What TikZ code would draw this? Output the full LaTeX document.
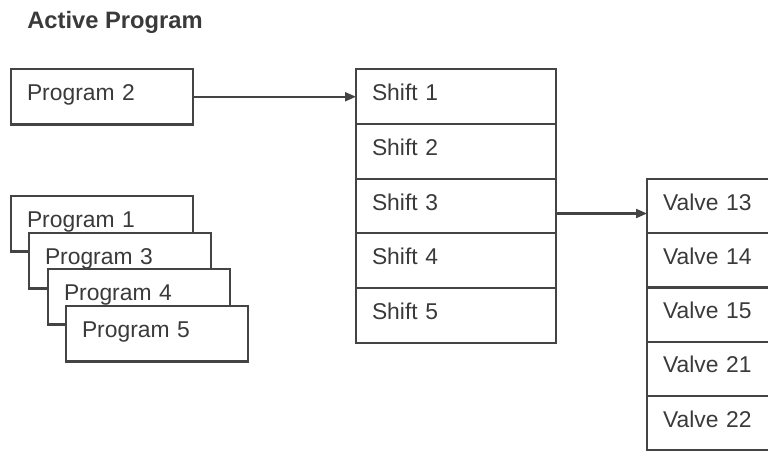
\documentclass[tikz,border=0pt]{standalone}
\usepackage{fontspec}
\setmainfont{Liberation Sans}
\usetikzlibrary{positioning,arrows.meta}

\definecolor{linegray}{HTML}{444444}
\definecolor{textgray}{HTML}{3A3A3A}

\tikzset{
  cell/.style={rectangle, draw=linegray, line width=1.15pt, fill=white,
    text=textgray, align=left, inner xsep=0.32cm, inner ysep=0pt,
    outer sep=0pt, text height=0.33cm, text depth=0.17cm,
    font=\fontsize{13}{15}\selectfont, anchor=north west},
  progbox/.style={cell, text width=3.0cm, minimum height=1.11cm},
  shiftbox/.style={cell, text width=3.36cm, minimum height=1.096cm},
  valvebox/.style={cell, text width=2.16cm, minimum height=1.085cm},
  link/.style={draw=linegray, line width=1.15pt,
    -{Triangle[length=0.22cm,width=0.18cm]}}
}

\begin{document}
\begin{tikzpicture}

      \clip (0,0) rectangle (15.36,-9.12);

      \node[anchor=base west, inner sep=0pt, text=textgray, font=\fontsize{13.5}{16}\selectfont\bfseries]
        (title) at (0.54,-0.56) {Active Program};

      % programs
      \node[progbox] (prog2) at (0.22,-1.38) {Program 2};
      \node[progbox] (prog1) at (0.22,-3.92) {Program 1};
      \node[progbox] (prog3) at (0.58,-4.66) {Program 3};
      \node[progbox] (prog4) at (0.96,-5.38) {Program 4};
      \node[progbox] (prog5) at (1.32,-6.12) {Program 5};

      % shifts
      \node[shiftbox] (shift1) at (7.12,-1.38) {Shift 1};
      \node[shiftbox, below=0pt of shift1.south west, anchor=north west] (shift2) {Shift 2};
      \node[shiftbox, below=0pt of shift2.south west, anchor=north west] (shift3) {Shift 3};
      \node[shiftbox, below=0pt of shift3.south west, anchor=north west] (shift4) {Shift 4};
      \node[shiftbox, below=0pt of shift4.south west, anchor=north west] (shift5) {Shift 5};

      % valves
      \node[valvebox] (valve13) at (12.94,-3.58) {Valve 13};
      \node[valvebox, below=0pt of valve13.south west, anchor=north west] (valve14) {Valve 14};
      \node[valvebox, below=0pt of valve14.south west, anchor=north west] (valve15) {Valve 15};
      \node[valvebox, below=0pt of valve15.south west, anchor=north west] (valve21) {Valve 21};
      \node[valvebox, below=0pt of valve21.south west, anchor=north west] (valve22) {Valve 22};

      \coordinate (s3out) at ([yshift=-0.15cm]shift3.east);

      \path[link] (prog2.east) -- (prog2.east -| shift1.west);
      \path[link] (s3out) -- (s3out -| valve13.west);

    \end{tikzpicture}
\end{document}
